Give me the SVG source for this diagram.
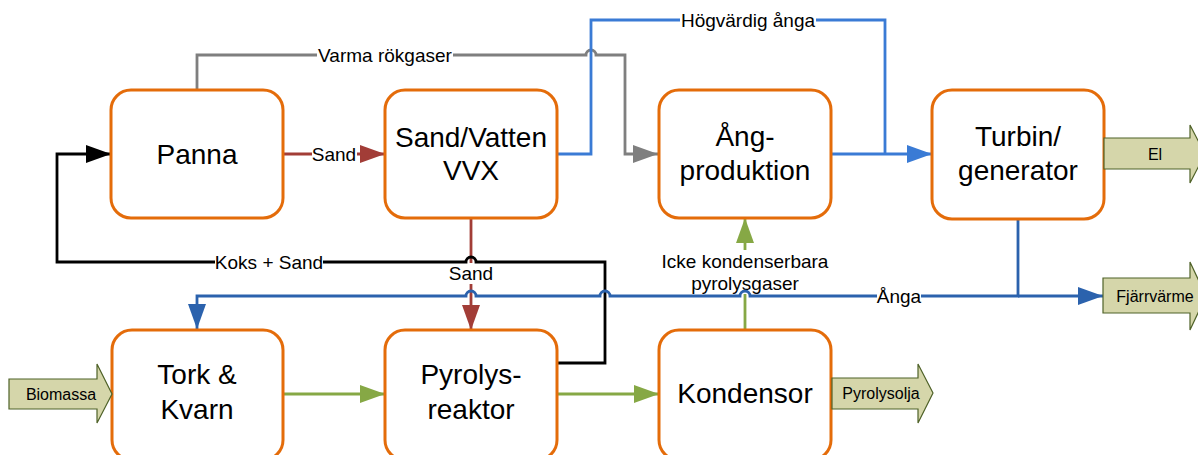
<svg xmlns="http://www.w3.org/2000/svg" width="1198" height="455" viewBox="0 0 1198 455">
  <style>
    .box { fill: #ffffff; stroke: #E46C0A; stroke-width: 3; }
    .boxtxt { font-family: "Liberation Sans", Arial, sans-serif; font-size: 28px; fill: #000; text-anchor: middle; }
    .lbl { font-family: "Liberation Sans", Arial, sans-serif; font-size: 19px; fill: #000; text-anchor: middle; }
    .blk { fill: #D5D6AA; stroke: #4F6228; stroke-width: 1.2; }
    .blktxt { font-family: "Liberation Sans", Arial, sans-serif; font-size: 16px; fill: #000; text-anchor: middle; }
    .bg { fill: #ffffff; }
    .ln { fill: none; stroke-width: 2.8; stroke-linejoin: miter; }
    .gray { stroke: #7F7F7F; }
    .lblue { stroke: #3A7BD5; }
    .dblue { stroke: #2B62AD; }
    .red { stroke: #A23D37; }
    .black { stroke: #000000; }
    .green { stroke: #86A845; }
  </style>
  <defs>
    <marker id="ah-gray" markerUnits="userSpaceOnUse" markerWidth="26" markerHeight="18" refX="25" refY="9" orient="auto"><path d="M0,0 L25,9 L0,18 z" fill="#7F7F7F"/></marker>
    <marker id="ah-lblue" markerUnits="userSpaceOnUse" markerWidth="26" markerHeight="18" refX="25" refY="9" orient="auto"><path d="M0,0 L25,9 L0,18 z" fill="#3A7BD5"/></marker>
    <marker id="ah-dblue" markerUnits="userSpaceOnUse" markerWidth="26" markerHeight="18" refX="25" refY="9" orient="auto"><path d="M0,0 L25,9 L0,18 z" fill="#2B62AD"/></marker>
    <marker id="ah-red" markerUnits="userSpaceOnUse" markerWidth="26" markerHeight="18" refX="25" refY="9" orient="auto"><path d="M0,0 L25,9 L0,18 z" fill="#A23D37"/></marker>
    <marker id="ah-black" markerUnits="userSpaceOnUse" markerWidth="26" markerHeight="18" refX="25" refY="9" orient="auto"><path d="M0,0 L25,9 L0,18 z" fill="#000000"/></marker>
    <marker id="ah-green" markerUnits="userSpaceOnUse" markerWidth="26" markerHeight="18" refX="25" refY="9" orient="auto"><path d="M0,0 L25,9 L0,18 z" fill="#86A845"/></marker>
  </defs>

  <!-- connectors -->
  <g id="connectors">
    <!-- hot flue gases: Panna -> Ång-produktion -->
    <path class="ln gray" d="M197,90 V55 H586 a5,5 0 0 1 10,0 H625 V154 H658" marker-end="url(#ah-gray)"/>
    <rect class="bg" x="317" y="45" width="136" height="21"/>
    <text class="lbl" x="385" y="62">Varma rökgaser</text>

    <!-- high-grade steam -->
    <path class="ln lblue" d="M557,154 H591 V20 H885 V154"/>
    <path class="ln lblue" d="M831,154 H932" marker-end="url(#ah-lblue)"/>
    <rect class="bg" x="680" y="10" width="136" height="21"/>
    <text class="lbl" x="748" y="27">Högvärdig ånga</text>

    <!-- sand Panna -> VVX -->
    <path class="ln red" d="M283,154 H385" marker-end="url(#ah-red)"/>
    <rect class="bg" x="312" y="144" width="45" height="21"/>
    <text class="lbl" x="334" y="161">Sand</text>

    <!-- green process flow -->
    <path class="ln green" d="M283,394 H385" marker-end="url(#ah-green)"/>
    <path class="ln green" d="M557,394 H659" marker-end="url(#ah-green)"/>
    <path class="ln green" d="M745,330 V218" marker-end="url(#ah-green)"/>
    <rect class="bg" x="660" y="250" width="170" height="44"/>
    <text class="lbl" x="745" y="268">Icke kondenserbara</text>
    <text class="lbl" x="745" y="290">pyrolysgaser</text>

    <!-- sand VVX -> reactor -->
    <path class="ln red" d="M471,218 V330" marker-end="url(#ah-red)"/>
    <rect class="bg" x="449" y="263" width="45" height="21"/>
    <text class="lbl" x="471" y="280">Sand</text>

    <!-- coke + sand back to Panna -->
    <path class="ln black" d="M557,363 H605 V262 H476 a5,5 0 0 0 -10,0 H57 V154 H111" marker-end="url(#ah-black)"/>
    <rect class="bg" x="215" y="252" width="108" height="21"/>
    <text class="lbl" x="269" y="269">Koks + Sand</text>

    <!-- low-grade steam -->
    <path class="ln dblue" d="M1018,219 V296 H750 a5,5 0 0 0 -10,0 H610 a5,5 0 0 0 -10,0 H476 a5,5 0 0 0 -10,0 H197 V329" marker-end="url(#ah-dblue)"/>
    <path class="ln dblue" d="M1018,296 H1103" marker-end="url(#ah-dblue)"/>
    <rect class="bg" x="877" y="286" width="44" height="21"/>
    <text class="lbl" x="899" y="303">Ånga</text>
  </g>

  <!-- process units -->
  <g id="panna">
    <rect class="box" x="111" y="90" width="172" height="128" rx="20"/>
    <text class="boxtxt" x="197" y="164">Panna</text>
  </g>
  <g id="vvx">
    <rect class="box" x="385" y="90" width="172" height="128" rx="20"/>
    <text class="boxtxt" x="471" y="147">Sand/Vatten</text>
    <text class="boxtxt" x="471" y="180">VVX</text>
  </g>
  <g id="angproduktion">
    <rect class="box" x="659" y="90" width="172" height="128" rx="20"/>
    <text class="boxtxt" x="745" y="146">Ång-</text>
    <text class="boxtxt" x="745" y="180">produktion</text>
  </g>
  <g id="turbin">
    <rect class="box" x="932" y="90" width="172" height="129" rx="20"/>
    <text class="boxtxt" x="1018" y="146">Turbin/</text>
    <text class="boxtxt" x="1018" y="180">generator</text>
  </g>
  <g id="tork">
    <rect class="box" x="112" y="330" width="171" height="130" rx="20"/>
    <text class="boxtxt" x="197" y="384">Tork &amp;</text>
    <text class="boxtxt" x="197" y="419">Kvarn</text>
  </g>
  <g id="pyrolysreaktor">
    <rect class="box" x="385" y="330" width="172" height="130" rx="20"/>
    <text class="boxtxt" x="471" y="384">Pyrolys-</text>
    <text class="boxtxt" x="471" y="419">reaktor</text>
  </g>
  <g id="kondensor">
    <rect class="box" x="659" y="330" width="172" height="130" rx="20"/>
    <text class="boxtxt" x="745" y="403">Kondensor</text>
  </g>

  <!-- inputs and products -->
  <g id="biomassa">
    <path class="blk" d="M9,379 H97 V364 L112,394 L97,423 V409 H9 z"/>
    <text class="blktxt" x="61" y="400">Biomassa</text>
  </g>
  <g id="pyrolysolja">
    <path class="blk" d="M832,378 H918 V364 L933,393 L918,423 V409 H832 z"/>
    <text class="blktxt" x="881" y="399">Pyrolysolja</text>
  </g>
  <g id="el">
    <path class="blk" d="M1104,138 H1190 V125 L1205,154 L1190,183 V169 H1104 z"/>
    <text class="blktxt" x="1155" y="160">El</text>
  </g>
  <g id="fjarrvarme">
    <path class="blk" d="M1103,278 H1190 V262 L1206,296 L1190,330 V313 H1103 z"/>
    <text class="blktxt" x="1155" y="302">Fjärrvärme</text>
  </g>
</svg>
